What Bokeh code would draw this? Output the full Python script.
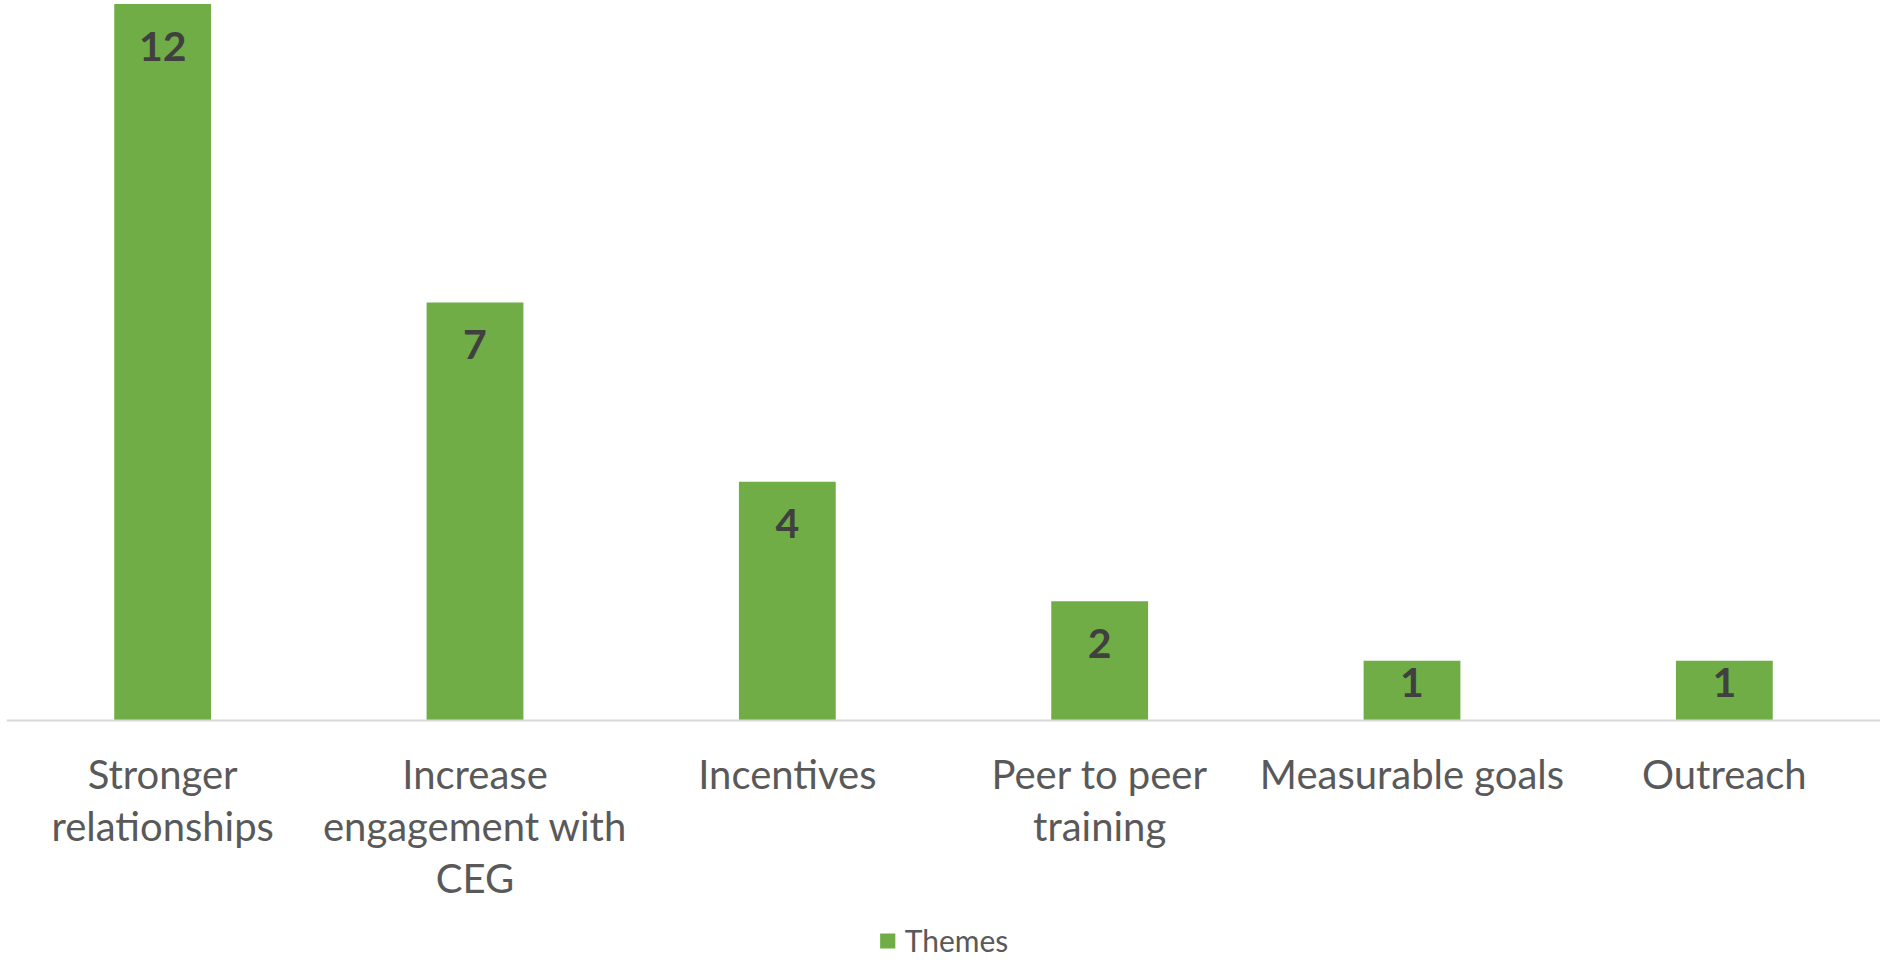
from bokeh.plotting import figure
from bokeh.models import ColumnDataSource, Legend, LegendItem, FactorRange, Range1d, Span
from bokeh.embed import file_html
from bokeh.resources import INLINE
from bokeh.core.properties import value

categories = ["Stronger relationships", "Increase engagement with CEG", "Incentives",
              "Peer to peer training", "Measurable goals", "Outreach"]
category_labels = ["Stronger\nrelationships", "Increase\nengagement with\nCEG", "Incentives",
                   "Peer to peer\ntraining", "Measurable goals", "Outreach"]
counts = [12, 7, 4, 2, 1, 1]
series_name = "Themes"

BAR = "#70AD47"
source = ColumnDataSource(dict(
    cat=categories,
    count=counts,
    label=[str(c) for c in counts],
    off=[42 if c > 1 else 22 for c in counts],
    zero=[0] * len(counts),
    catlabel=category_labels,
))

# frame height 958 px; 12 units over 716 px
p = figure(x_range=FactorRange(*categories), y_range=Range1d(-3.985, 12.06),
           width=1880, height=958, output_backend="svg", toolbar_location=None,
           min_border_left=6, min_border_right=0, min_border_top=0, min_border_bottom=0,
           outline_line_color=None, background_fill_color="white", border_fill_color="white")

bars = p.vbar(x="cat", top="count", width=0.31, source=source, fill_color=BAR, line_color=None)
p.text(x="cat", y="count", text="label", source=source, y_offset="off",
       text_align="center", text_baseline="alphabetic",
       text_font=value("Lato"), text_font_style="bold", text_font_size="41px",
       text_color="#404040")

# baseline (category axis line)
p.add_layout(Span(location=0, dimension="width", line_color="#D9D9D9", line_width=2))

# category labels below the baseline
p.text(x="cat", y="zero", text="catlabel", source=source, y_offset=29,
       text_align="center", text_baseline="top",
       text_font=value("Lato"), text_font_size="40px", text_color="#595959",
       text_line_height=1.09)

p.xaxis.visible = False
p.yaxis.visible = False
p.grid.visible = False

legend = Legend(items=[LegendItem(label=series_name, renderers=[bars])],
                location="bottom_center", orientation="horizontal",
                border_line_color=None, background_fill_alpha=0,
                label_text_font="Lato", label_text_font_size="30px",
                label_text_color="#595959", glyph_width=19, glyph_height=19,
                margin=0, padding=0, label_standoff=8)
p.add_layout(legend)

open("out.html", "w").write(file_html(p, INLINE))
